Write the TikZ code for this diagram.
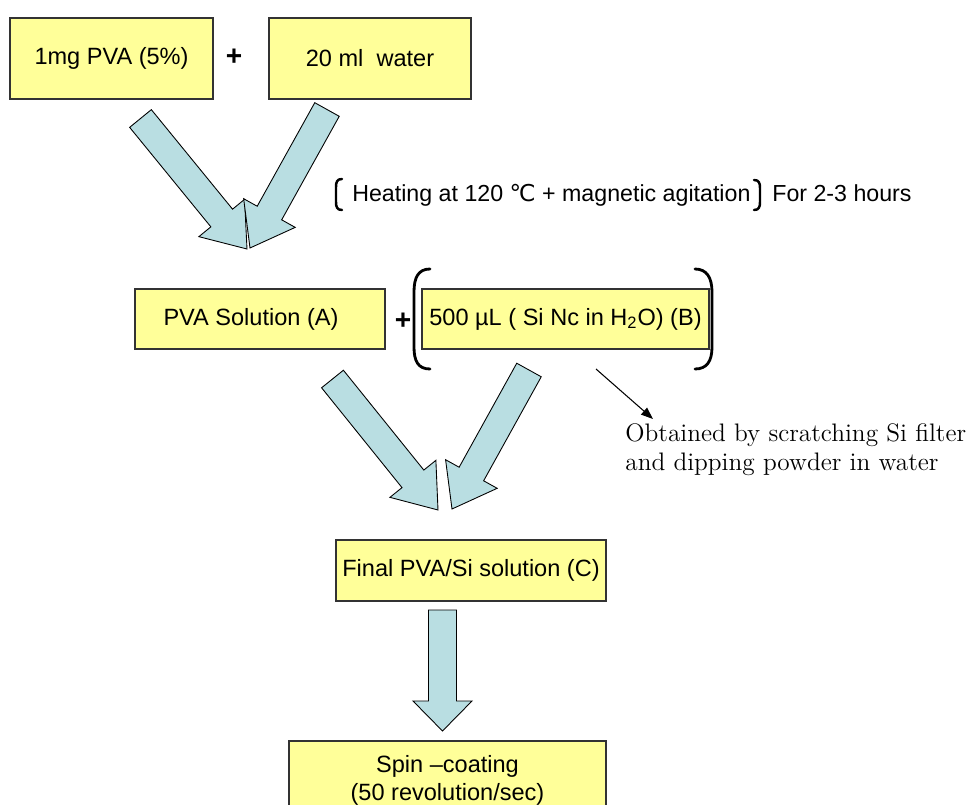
\documentclass[tikz,border=0pt]{standalone}
\usepackage{fontspec}
\newfontfamily\arial{Liberation Sans}
\newfontfamily\dejavu{DejaVu Sans}
\usetikzlibrary{calc,arrows.meta}

\definecolor{boxyellow}{RGB}{255,255,153}
\definecolor{arrowblue}{RGB}{185,222,226}

\tikzset{
  box/.style={draw=black!80, fill=boxyellow, line width=0.6pt, inner sep=0pt,
    font=\arial\fontsize{13.4}{16}\selectfont},
  label/.style={inner sep=0pt, font=\arial\fontsize{13.2}{16}\selectfont},
  plus/.style={inner sep=0pt, font=\arial\bfseries\fontsize{16}{18}\selectfont},
  blockarrow/.style={draw=black, fill=arrowblue, line width=0.5pt, line join=miter},
  paren/.style={line width=1.6pt, line cap=round},
  pointer/.style={line width=0.6pt, -{Triangle[length=2.4mm,width=1.8mm]}}
}

% fat arrow from tail (#2) to tip (#3), #1 = head length
\newcommand{\blockarrow}[3][8mm]{%
  \coordinate (ba-h) at ($(#3)!#1!(#2)$);
  \filldraw[blockarrow]
    ($(#2)!2.8mm!90:(#3)$) -- ($(ba-h)!2.8mm!90:(#3)$) -- ($(ba-h)!5.9mm!90:(#3)$)
    -- (#3) -- ($(ba-h)!5.9mm!-90:(#3)$) -- ($(ba-h)!2.8mm!-90:(#3)$)
    -- ($(#2)!2.8mm!-90:(#3)$) -- cycle;
}

\begin{document}
\begin{tikzpicture}[x=0.2mm, y=-0.2mm]
  \useasboundingbox (0,0) rectangle (972,805);
  \clip (0,0) rectangle (972,805);

  % first row
  \node[box, minimum width=40.6mm, minimum height=16.2mm] (pva) at (111.5,58.5) {1mg PVA (5\%)};
  \node[plus] (plus1) at (234,57) {+};
  \node[box, minimum width=40.4mm, minimum height=16.2mm] (water) at (370,58.5) {20 ml~ water};

  % heating step
  \node[label, anchor=base west] (heat) at (352,202) {Heating at 120 {\dejavu ℃} + magnetic agitation};
  \node[label, anchor=base west] (hours) at (772,202) {For 2-3 hours};
  \draw[paren, line width=1.4pt] (342,179) .. controls (337,179) and (336,182) .. (336,187)
    -- (336,202) .. controls (336,207) and (337,210) .. (342,210);
  \draw[paren, line width=1.4pt] (754,180) .. controls (759,180) and (760,183) .. (760,188)
    -- (760,202) .. controls (760,207) and (759,210) .. (754,210);

  \coordinate (t1) at (140.5,118.5);
  \coordinate (h1) at (247,249);
  \coordinate (t2) at (327,109.5);
  \coordinate (h2) at (250,248);
  \blockarrow{t1}{h1}
  \blockarrow{t2}{h2}

  % second row
  \node[box, minimum width=50mm, minimum height=12mm] (solA) at (260,319) {PVA Solution (A)\hspace*{3.6mm}};
  \node[plus] (plus2) at (403,321) {+};
  \node[box, minimum width=57.4mm, minimum height=12mm] (solB) at (565.5,319)
    {500 µL ( Si Nc in H\textsubscript{2}O) (B)};
  \draw[paren] (430,269) .. controls (418,269) and (414,278) .. (414,292)
    -- (414,347) .. controls (414,361) and (418,369) .. (430,369);
  \draw[paren] (695,269) .. controls (707,269) and (712,278) .. (712,292)
    -- (712,347) .. controls (712,361) and (707,369) .. (695,369);

  % note on (B)
  \node[inner sep=0pt, anchor=north west, align=left, font=\fontsize{14.4}{16.5}\selectfont]
    (note) at (625,423) {Obtained by scratching Si filter\\and dipping powder in water};
  \coordinate (ptr) at (596,369);
  \coordinate (ptrend) at (653,419);
  \draw[pointer] (ptr) -- (ptrend);

  \coordinate (t3) at (332.5,379);
  \coordinate (h3) at (438,510);
  \coordinate (t4) at (529,370);
  \coordinate (h4) at (452,509);
  \blockarrow{t3}{h3}
  \blockarrow{t4}{h4}

  % final solution and spin coating
  \node[box, minimum width=54mm, minimum height=12.2mm] (final) at (471,570.5) {Final PVA/Si solution (C)};
  \coordinate (t5) at (442.5,610);
  \coordinate (h5) at (442.5,731);
  \blockarrow[6mm]{t5}{h5}
  \node[box, minimum width=63.4mm, minimum height=15.8mm, align=center] (spin) at (447.5,780.5)
    {Spin –coating\\(50 revolution/sec)};
\end{tikzpicture}
\end{document}
